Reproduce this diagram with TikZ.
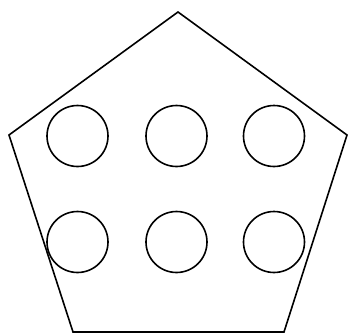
\documentclass[tikz,border=0pt]{standalone}
\begin{document}
\begin{tikzpicture}[x=1pt,y=-1pt,line width=1.6pt,
    hole/.style={draw, circle, minimum size=61pt, inner sep=0pt}]
    \useasboundingbox (0,0) rectangle (349,335);
    % Pentagon
    \draw (178,12) -- (347,135) -- (284,332) -- (73,332) -- (9,135) -- cycle;
    % Upper row
    \node[hole] (u1) at (77.5,136) {};
    \node[hole] (u2) at (176.5,136) {};
    \node[hole] (u3) at (274,136) {};
    % Lower row
    \node[hole] (l1) at (77.5,242) {};
    \node[hole] (l2) at (176.5,242) {};
    \node[hole] (l3) at (274,242) {};
\end{tikzpicture}
\end{document}
